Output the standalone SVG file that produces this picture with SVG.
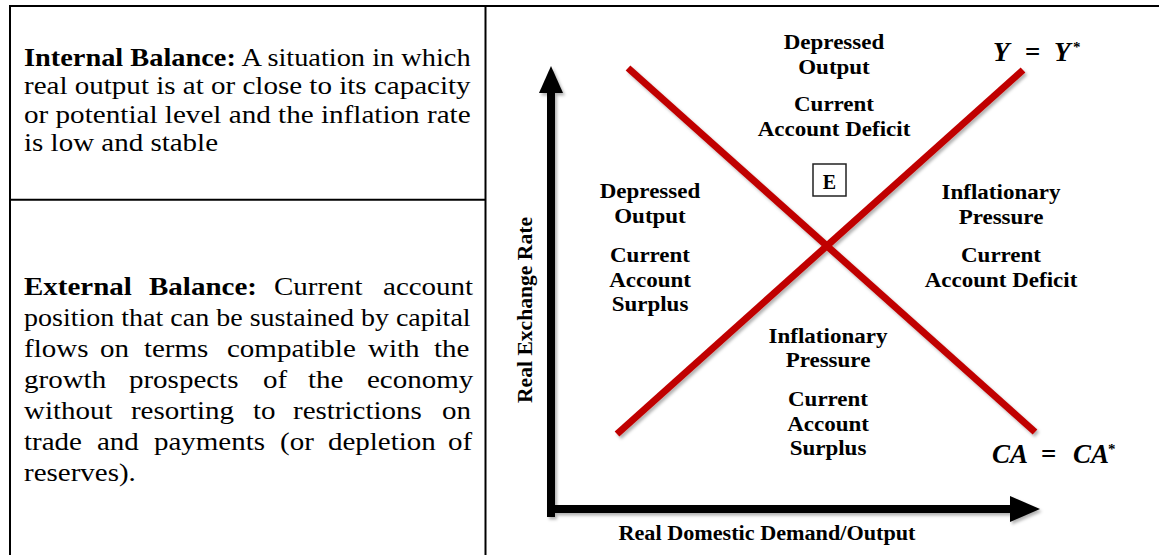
<svg xmlns="http://www.w3.org/2000/svg" width="1159" height="555" viewBox="0 0 1159 555">
  <style>
    .frame { stroke: #000; stroke-width: 2; fill: none; }
    .body { font-family: "Liberation Serif", "Times New Roman", serif; font-size: 25px; fill: #000; }
    .b { font-weight: bold; }
    .lbl { font-family: "Liberation Serif", "Times New Roman", serif; font-size: 20px; font-weight: bold; text-anchor: middle; fill: #000; }
    .math { font-family: "Liberation Serif", "Times New Roman", serif; font-size: 27px; font-weight: bold; font-style: italic; fill: #000; }
    .up { font-style: normal; }
    .sup { font-size: 15px; font-style: normal; }
    .curve { stroke: #c00000; stroke-width: 7; fill: none; }
    .axis { stroke: #000; stroke-width: 8; fill: none; }
  </style>
  <defs>
    <filter id="shadow" filterUnits="userSpaceOnUse" x="0" y="0" width="1159" height="555">
      <feDropShadow dx="2" dy="2.5" stdDeviation="1.5" flood-color="#000" flood-opacity="0.3"/>
    </filter>
  </defs>

  <rect width="1159" height="555" fill="#fff"/>

  <!-- table frame -->
  <g id="table-frame" class="frame">
    <line x1="9" y1="6" x2="1159" y2="6"/>
    <line x1="10" y1="5" x2="10" y2="555"/>
    <line x1="485.5" y1="5" x2="485.5" y2="555"/>
    <line x1="9" y1="199.7" x2="486" y2="199.7"/>
  </g>

  <!-- definition of internal balance -->
  <g id="internal-balance" transform="translate(24 0) scale(1.16 1)">
    <text class="body" y="66" textLength="385" lengthAdjust="spacingAndGlyphs"><tspan class="b">Internal Balance:</tspan> A situation in which</text>
    <text class="body" y="94.5" textLength="385" lengthAdjust="spacingAndGlyphs">real output is at or close to its capacity</text>
    <text class="body" y="123" textLength="385" lengthAdjust="spacingAndGlyphs">or potential level and the inflation rate</text>
    <text class="body" y="151.5">is low and stable</text>
  </g>

  <!-- definition of external balance (justified) -->
  <g id="external-balance" transform="translate(24 0) scale(1.16 1)">
    <text class="body" y="295"><tspan class="b" x="0">External</tspan><tspan class="b" x="107.8">Balance:</tspan><tspan x="215.5">Current</tspan><tspan x="309.5">account</tspan></text>
    <text class="body" y="326" textLength="385" lengthAdjust="spacingAndGlyphs">position that can be sustained by capital</text>
    <text class="body" y="357"><tspan x="0">flows</tspan><tspan x="65.5">on</tspan><tspan x="103.4">terms</tspan><tspan x="175">compatible</tspan><tspan x="296.6">with</tspan><tspan x="353.4">the</tspan></text>
    <text class="body" y="388"><tspan x="0">growth</tspan><tspan x="90.5">prospects</tspan><tspan x="206">of</tspan><tspan x="244.8">the</tspan><tspan x="295.7">economy</tspan></text>
    <text class="body" y="419"><tspan x="0">without</tspan><tspan x="92.2">resorting</tspan><tspan x="197.4">to</tspan><tspan x="231.9">restrictions</tspan><tspan x="360.3">on</tspan></text>
    <text class="body" y="450"><tspan x="0">trade</tspan><tspan x="62.9">and</tspan><tspan x="112">payments</tspan><tspan x="220.7">(or</tspan><tspan x="262">depletion</tspan><tspan x="365.5">of</tspan></text>
    <text class="body" y="481">reserves).</text>
  </g>

  <!-- axes -->
  <g id="axes" filter="url(#shadow)">
    <line class="axis" x1="551" y1="90" x2="551" y2="513" stroke-linecap="square"/>
    <polygon points="551,66 539,93 563,93" fill="#000"/>
    <line class="axis" x1="547" y1="509" x2="1012" y2="509"/>
    <polygon points="1040,509 1010,496 1010,522" fill="#000"/>
  </g>

  <!-- balance schedules -->
  <g id="connectors" filter="url(#shadow)">
    <line id="internal-schedule" class="curve" x1="617" y1="434" x2="1023" y2="70"/>
    <line id="external-schedule" class="curve" x1="628" y1="68" x2="1035" y2="432"/>
  </g>

  <!-- axis titles -->
  <g id="y-axis-title">
    <text class="lbl" transform="translate(532 310) rotate(-90)" textLength="186" lengthAdjust="spacingAndGlyphs">Real Exchange Rate</text>
  </g>
  <g id="x-axis-title">
    <text class="lbl" x="767" y="540" textLength="297" lengthAdjust="spacingAndGlyphs">Real Domestic Demand/Output</text>
  </g>

  <!-- schedule labels -->
  <g id="label-internal">
    <text class="math" y="61"><tspan x="993">Y</tspan><tspan class="up" x="1025">=</tspan><tspan x="1054">Y</tspan><tspan class="sup" x="1073" dy="-9">*</tspan></text>
  </g>
  <g id="label-external">
    <text class="math" y="463"><tspan x="992">CA</tspan><tspan class="up" x="1041">=</tspan><tspan x="1073">CA</tspan><tspan class="sup" x="1108" dy="-9">*</tspan></text>
  </g>

  <!-- equilibrium point -->
  <g id="equilibrium">
    <rect x="813" y="164" width="33" height="32" fill="#fff" stroke="#222" stroke-width="1.5"/>
    <text class="lbl" x="829.5" y="189" font-size="22">E</text>
  </g>

  <!-- zone labels -->
  <g id="zone-top" transform="translate(834 0) scale(1.15 1)">
    <text class="lbl" y="49">Depressed</text>
    <text class="lbl" y="74">Output</text>
    <text class="lbl" y="111">Current</text>
    <text class="lbl" y="136">Account Deficit</text>
  </g>
  <g id="zone-left" transform="translate(650 0) scale(1.15 1)">
    <text class="lbl" y="198">Depressed</text>
    <text class="lbl" y="223">Output</text>
    <text class="lbl" y="262">Current</text>
    <text class="lbl" y="287">Account</text>
    <text class="lbl" y="311">Surplus</text>
  </g>
  <g id="zone-right" transform="translate(1001 0) scale(1.15 1)">
    <text class="lbl" y="199">Inflationary</text>
    <text class="lbl" y="224">Pressure</text>
    <text class="lbl" y="262">Current</text>
    <text class="lbl" y="287">Account Deficit</text>
  </g>
  <g id="zone-bottom" transform="translate(828 0) scale(1.15 1)">
    <text class="lbl" y="343">Inflationary</text>
    <text class="lbl" y="367">Pressure</text>
    <text class="lbl" y="406">Current</text>
    <text class="lbl" y="431">Account</text>
    <text class="lbl" y="455">Surplus</text>
  </g>
</svg>
